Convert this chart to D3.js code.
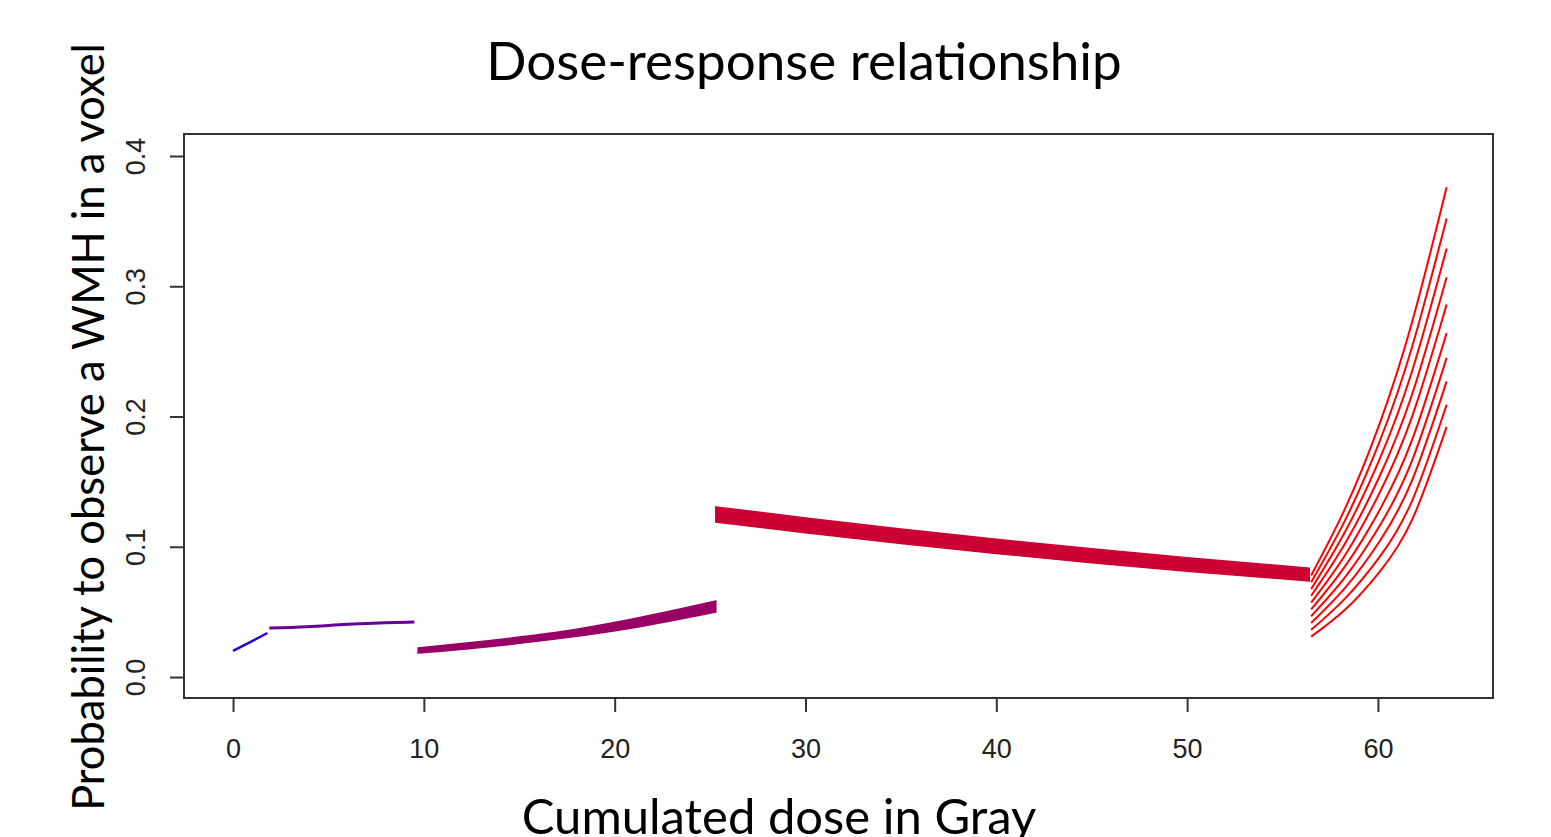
<!DOCTYPE html>
<html>
<head>
<meta charset="utf-8">
<script src="https://cdn.jsdelivr.net/npm/d3@7"></script>
<style>
  body { margin: 0; background: #fff; }
  text { font-variant-ligatures: none; }
</style>
</head>
<body>
<div id="chart"></div>
<script>
// Values
const xTicks = [0, 10, 20, 30, 40, 50, 60];
const yTicks = [0, 0.1, 0.2, 0.3, 0.4];

// segment 1 (blue) and 2 (purple): thin lines
const blueDose = [0, 0.9, 1.8];
const blueProb = [0.020, 0.0268, 0.0338];
const purpleDose = [1.9, 3.9, 6.0, 8.0, 9.5];
const purpleProb = [0.0376, 0.0386, 0.0405, 0.0417, 0.0422];

// segment 3 (magenta) and 4 (crimson): bundles of curves drawn as bands
const magentaDose = [9.7, 13, 17.5, 21, 25.3];
const magentaLow = [0.0184, 0.0227, 0.0303, 0.0379, 0.0499];
const magentaHigh = [0.0223, 0.0273, 0.0355, 0.0448, 0.0584];
const crimsonDose = [25.3, 30, 35, 40, 45, 50, 56.4];
const crimsonLow = [0.1190, 0.1107, 0.1025, 0.0949, 0.0878, 0.0813, 0.0737];
const crimsonHigh = [0.1306, 0.1221, 0.1136, 0.1057, 0.0984, 0.0916, 0.0836];

// segment 5 (red): fan of 10 curves
const redDose = [56.5, 58.3, 60.1, 61.8, 63.6];
const redProb = [
    [0.078, 0.130, 0.195, 0.273, 0.376],
    [0.0728, 0.1210, 0.1813, 0.254, 0.352],
    [0.0676, 0.1121, 0.1676, 0.2353, 0.329],
    [0.0624, 0.1031, 0.1545, 0.2175, 0.307],
    [0.0571, 0.0941, 0.1418, 0.2003, 0.286],
    [0.0519, 0.0855, 0.1285, 0.1824, 0.264],
    [0.0467, 0.0770, 0.1163, 0.1666, 0.245],
    [0.0415, 0.0688, 0.1044, 0.1514, 0.227],
    [0.0362, 0.0606, 0.0924, 0.1356, 0.209],
    [0.031, 0.052, 0.081, 0.121, 0.192],
];

const segColors = ["#2a00e8", "#660099", "#990066", "#cc0033", "#ff0000"];

const W = 1551, H = 837;
const box = {left: 184, right: 1493, top: 134, bottom: 698};

const svg = d3.select("#chart")
    .append("svg")
    .attr("width", W)
    .attr("height", H)
    .style("background", "#fff");

const x = d3.scaleLinear().domain([-2.57, 66.03]).range([box.left, box.right]);
const y = d3.scaleLinear().domain([-0.0161, 0.4169]).range([box.bottom, box.top]);

const line = d3.line()
    .x((d) => x(d[0]))
    .y((d) => y(d[1]))
    .curve(d3.curveMonotoneX);

// smoother curve for the steep red fan
const fanLine = d3.line()
    .x((d) => x(d[0]))
    .y((d) => y(d[1]))
    .curve(d3.curveNatural);

const band = d3.area()
    .x((d) => x(d[0]))
    .y0((d) => y(d[1]))
    .y1((d) => y(d[2]))
    .curve(d3.curveMonotoneX);

const plot = svg.append("g");

// thin segments
plot.append("path")
    .datum(blueDose.map((d, i) => [d, blueProb[i]]))
    .attr("d", line)
    .attr("fill", "none")
    .attr("stroke", segColors[0])
    .attr("stroke-width", 2.5);

plot.append("path")
    .datum(purpleDose.map((d, i) => [d, purpleProb[i]]))
    .attr("d", line)
    .attr("fill", "none")
    .attr("stroke", segColors[1])
    .attr("stroke-width", 3);

// bands
plot.append("path")
    .datum(magentaDose.map((d, i) => [d, magentaLow[i], magentaHigh[i]]))
    .attr("d", band)
    .attr("fill", segColors[2])
    .attr("stroke", segColors[2])
    .attr("stroke-width", 1.5);

plot.append("path")
    .datum(crimsonDose.map((d, i) => [d, crimsonLow[i], crimsonHigh[i]]))
    .attr("d", band)
    .attr("fill", segColors[3])
    .attr("stroke", segColors[3])
    .attr("stroke-width", 1.5);

// red fan
plot.selectAll(".fan")
    .data(redProb)
    .join("path")
    .attr("class", "fan")
    .attr("d", (p) => fanLine(redDose.map((d, i) => [d, p[i]])))
    .attr("fill", "none")
    .attr("stroke", segColors[4])
    .attr("stroke-width", 2);

// frame
svg.append("rect")
    .attr("x", box.left)
    .attr("y", box.top)
    .attr("width", box.right - box.left)
    .attr("height", box.bottom - box.top)
    .attr("fill", "none")
    .attr("stroke", "#333")
    .attr("stroke-width", 2);

// axes
const xAxis = svg.append("g")
    .attr("transform", `translate(0,${box.bottom})`)
    .call(d3.axisBottom(x).tickValues(xTicks).tickSize(14).tickFormat(d3.format("d")));
xAxis.select(".domain").remove();
xAxis.selectAll("line").attr("stroke", "#333").attr("stroke-width", 2);
xAxis.selectAll("text")
    .attr("y", 60)
    .attr("dy", 0)
    .attr("fill", "#222")
    .style("font", "27px 'Liberation Sans', Arial, sans-serif");

const yAxis = svg.append("g")
    .attr("transform", `translate(${box.left},0)`)
    .call(d3.axisLeft(y).tickValues(yTicks).tickSize(14).tickFormat(d3.format(".1f")));
yAxis.select(".domain").remove();
yAxis.selectAll("line").attr("stroke", "#333").attr("stroke-width", 2);
yAxis.selectAll("text")
    .attr("transform", "rotate(-90)")
    .attr("x", 0)
    .attr("y", -39)
    .attr("dy", 0)
    .attr("text-anchor", "middle")
    .attr("fill", "#222")
    .style("font", "27px 'Liberation Sans', Arial, sans-serif");

// titles
svg.append("text")
    .attr("x", 804)
    .attr("y", 80)
    .attr("text-anchor", "middle")
    .style("font", "53px Lato, sans-serif")
    .text("Dose-response relationship");

svg.append("text")
    .attr("x", 779)
    .attr("y", 834)
    .attr("text-anchor", "middle")
    .style("font", "49px Lato, sans-serif")
    .text("Cumulated dose in Gray");

svg.append("text")
    .attr("transform", "translate(104,427) rotate(-90)")
    .attr("text-anchor", "middle")
    .style("font", "43.5px Lato, sans-serif")
    .text("Probability to observe a WMH in a voxel");
</script>
</body>
</html>
